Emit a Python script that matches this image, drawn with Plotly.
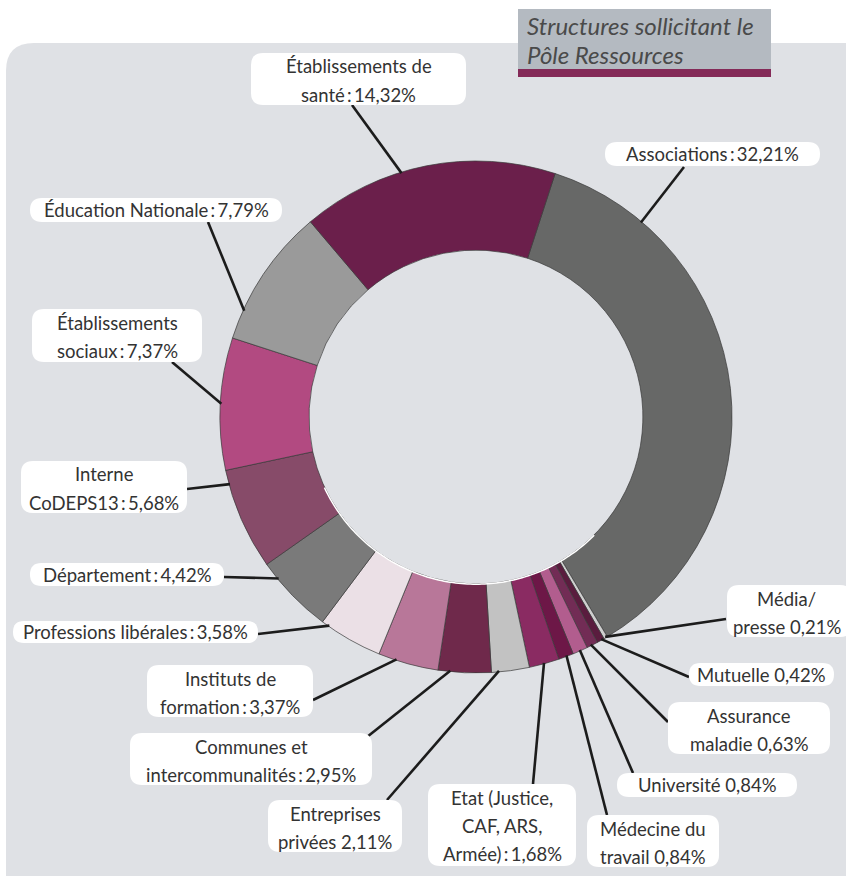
import math
import plotly.graph_objects as go

# ---------------- data ----------------
categories = [
    "Associations", "Média/presse", "Mutuelle", "Assurance maladie", "Université",
    "Médecine du travail", "Etat (Justice, CAF, ARS, Armée)", "Entreprises privées",
    "Communes et intercommunalités", "Instituts de formation", "Professions libérales",
    "Département", "Interne CoDEPS13", "Établissements sociaux", "Éducation Nationale",
    "Établissements de santé",
]
values = [32.21, 0.21, 0.42, 0.63, 0.84, 0.84, 1.68, 2.11, 2.95, 3.37, 3.58,
          4.42, 5.68, 7.37, 7.79, 14.32]
label_templates = [
    "Associations\u2009:\u2009{p}%",
    "Média/|presse {p}%",
    "Mutuelle {p}%",
    "Assurance|maladie {p}%",
    "Université {p}%",
    "Médecine du|travail {p}%",
    "Etat (Justice,|CAF, ARS,|Armée)\u2009:\u2009{p}%",
    "Entreprises|privées {p}%",
    "Communes et|intercommunalités\u2009:\u2009{p}%",
    "Instituts de|formation\u2009:\u2009{p}%",
    "Professions libérales\u2009:\u2009{p}%",
    "Département\u2009:\u2009{p}%",
    "Interne|CoDEPS13\u2009:\u2009{p}%",
    "Établissements|sociaux\u2009:\u2009{p}%",
    "Éducation Nationale\u2009:\u2009{p}%",
    "Établissements de|santé\u2009:\u2009{p}%",
]
title_lines = ["Structures sollicitant le", "Pôle Ressources"]

# ---------------- style / layout ----------------
W, H = 846, 876
colors = ["#676867", "#cfcfcf", "#5a1c3e", "#722c55", "#b25d8e", "#6d1747",
          "#8a2b62", "#c2c2c2", "#6f294b", "#b87799", "#ebe0e6", "#7a7a7a",
          "#874b69", "#b24a81", "#9a9a9a", "#6b1f4b"]
CX, CY, R = 476, 417, 256
HOLE = 0.652
ROT = 18
# label boxes (px): x0, y0, x1, y1 ; leader start (px) ; anchor fraction inside slice
boxes = [
    (605, 142, 820, 166), (727, 585, 852, 637), (689, 663, 834, 686),
    (668, 702, 830, 754), (617, 773, 797, 797), (587, 815, 719, 867),
    (428, 784, 576, 866), (268, 800, 402, 852), (130, 733, 372, 785),
    (147, 665, 313, 717), (13, 621, 258, 643), (30, 563, 224, 586),
    (21, 461, 187, 513), (32, 309, 202, 362), (30, 198, 282, 222),
    (251, 53, 466, 105),
]
starts = [(684, 167), (726, 619), (689, 677), (668, 722), (633, 773), (607, 815),
          (533, 784), (387, 800), (367, 737), (313, 700), (258, 634), (224, 577),
          (187, 489), (172, 362), (208, 222), (352, 105)]
fracs = [0.17, 0.5, 0.35, 0.6, 0.5, 0.45, 0.5, 0.8, 0.77, 0.7, 0.88, 0.77,
         0.86, 0.5, 0.21, 0.4]

FONT = "Lato"
TXT = "#333333"
LABEL_SIZE = 18.5


def X(px):
    return px / W


def Y(py):
    return 1 - py / H


def rrect_path(x0, y0, x1, y1, r):
    pts = [
        ("M", [(x0 + r, y0)]), ("L", [(x1 - r, y0)]), ("Q", [(x1, y0), (x1, y0 + r)]),
        ("L", [(x1, y1 - r)]), ("Q", [(x1, y1), (x1 - r, y1)]),
        ("L", [(x0 + r, y1)]), ("Q", [(x0, y1), (x0, y1 - r)]),
        ("L", [(x0, y0 + r)]), ("Q", [(x0, y0), (x0 + r, y0)]),
    ]
    s = ""
    for cmd, ps in pts:
        s += cmd + " " + " ".join(f"{X(a):.5f},{Y(b):.5f}" for a, b in ps) + " "
    return s + "Z"


shapes = []
annotations = []

# background panel
shapes.append(dict(type="path", xref="paper", yref="paper", layer="below",
                   path=rrect_path(6, 43, 900, 930, 28),
                   fillcolor="#dfe1e5", line=dict(width=0)))

# title box
shapes.append(dict(type="rect", xref="paper", yref="paper", layer="above",
                   x0=X(518), x1=X(771), y0=Y(9), y1=Y(69),
                   fillcolor="#b4bac1", line=dict(width=0)))
shapes.append(dict(type="rect", xref="paper", yref="paper", layer="above",
                   x0=X(518), x1=X(771), y0=Y(69), y1=Y(77),
                   fillcolor="#842a58", line=dict(width=0)))
for i, t in enumerate(title_lines):
    annotations.append(dict(xref="paper", yref="paper", x=X(525), y=Y(25 + 29 * i),
                            xanchor="left", yanchor="middle", showarrow=False,
                            text=f"<i>{t}</i>",
                            font=dict(family=FONT, size=24, color="#4a4a4a")))

# inner white highlight (bottom part of hole edge)
r_in = R * HOLE
arc = []
for k in range(0, 111):
    a = math.radians(135 + k * 1.0)
    arc.append((CX + (r_in + 0.3) * math.sin(a), CY - (r_in + 0.3) * math.cos(a)))
p = "M " + " L ".join(f"{X(a):.5f},{Y(b):.5f}" for a, b in arc)
shapes.append(dict(type="path", xref="paper", yref="paper", layer="above",
                   path=p, line=dict(color="white", width=1.5)))

# leader lines + boxes
total = sum(values)
cum = 0.0
for i, v in enumerate(values):
    ang = math.radians(ROT + (cum + fracs[i] * v) / total * 360)
    cum += v
    ex = CX + (R - 1) * math.sin(ang)
    ey = CY - (R - 1) * math.cos(ang)
    sx, sy = starts[i]
    shapes.append(dict(type="line", xref="paper", yref="paper", layer="above",
                       x0=X(sx), y0=Y(sy), x1=X(ex), y1=Y(ey),
                       line=dict(color="#1c1c1c", width=2.6)))

for i, v in enumerate(values):
    x0, y0, x1, y1 = boxes[i]
    rad = min(12, (y1 - y0) / 2)
    shapes.append(dict(type="path", xref="paper", yref="paper", layer="above",
                       path=rrect_path(x0, y0, x1, y1, rad),
                       fillcolor="white", line=dict(width=0)))
    pct = f"{v:.2f}".replace(".", ",")
    lines = label_templates[i].format(p=pct).split("|")
    cx = (x0 + x1) / 2 if x1 <= W else (x0 + W) / 2
    if len(lines) == 1:
        ys = [(y0 + y1) / 2]
    else:
        ys = [y0 + 13.5 + 28 * k for k in range(len(lines))]
    for t, yy in zip(lines, ys):
        annotations.append(dict(xref="paper", yref="paper", x=X(cx), y=Y(yy),
                                xanchor="center", yanchor="middle", showarrow=False,
                                text=t, font=dict(family=FONT, size=LABEL_SIZE, color=TXT)))

fig = go.Figure(go.Pie(
    labels=categories, values=values, hole=HOLE, sort=False,
    direction="clockwise", rotation=ROT, textinfo="none", hoverinfo="label+value",
    marker=dict(colors=colors, line=dict(color="#3a3a3a", width=0.7)),
    domain=dict(x=[X(CX - R), X(CX + R)], y=[Y(CY + R), Y(CY - R)]),
    showlegend=False,
))
fig.update_layout(
    width=W, height=H, margin=dict(l=0, r=0, t=0, b=0),
    paper_bgcolor="white", plot_bgcolor="white",
    shapes=shapes, annotations=annotations, showlegend=False,
)
fig.write_html("out.html", config={"displayModeBar": False},
               post_script="document.body.style.margin='0';document.body.style.overflow='hidden';")
